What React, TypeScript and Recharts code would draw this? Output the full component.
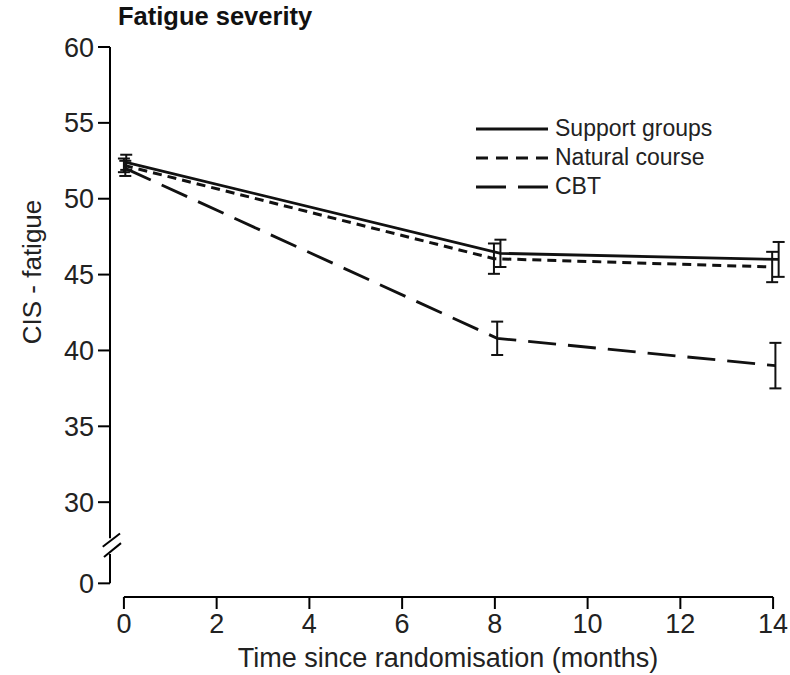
import React from "react";
import {
  LineChart,
  Line,
  XAxis,
  YAxis,
  ErrorBar,
  ReferenceLine,
  Legend,
  Customized,
} from "recharts";

const FONT = '"Liberation Sans", Arial, sans-serif';

// months (small horizontal offsets as in the original figure)
const SUPPORT_MONTHS = [0.05, 8.12, 14.12];
const SUPPORT_MEAN = [52.4, 46.4, 46.0];
const SUPPORT_ERR = [0.5, 0.9, 1.15];

const NATURAL_MONTHS = [0, 7.98, 13.98];
const NATURAL_MEAN = [52.2, 46.05, 45.5];
const NATURAL_ERR = [0.45, 1.0, 1.0];

const CBT_MONTHS = [0.03, 8.05, 14.05];
const CBT_MEAN = [52.0, 40.8, 39.0];
const CBT_ERR = [0.5, 1.1, 1.5];

const X_TICKS = [0, 2, 4, 6, 8, 10, 12, 14];
// broken axis: the "0" tick sits just under 30
const ZERO_POS = 24.65;
const Y_TICKS = [ZERO_POS, 30, 35, 40, 45, 50, 55, 60];
const Y_MIN = 23.75;
const Y_MAX = 60;
const X_MIN = -0.3;
const X_MAX = 14.3;

const build = (months: number[], mean: number[], err: number[]) =>
  months.map((m, i) => ({ month: m, mean: mean[i], err: err[i] }));

const supportData = build(SUPPORT_MONTHS, SUPPORT_MEAN, SUPPORT_ERR);
const naturalData = build(NATURAL_MONTHS, NATURAL_MEAN, NATURAL_ERR);
const cbtData = build(CBT_MONTHS, CBT_MEAN, CBT_ERR);

const SERIES = [
  { name: "Support groups", data: supportData, dash: undefined, legendDash: undefined, width: 2.8 },
  { name: "Natural course", data: naturalData, dash: "9 6", legendDash: "12 8", width: 3 },
  { name: "CBT", data: cbtData, dash: "28 12", legendDash: "30 12", width: 2.8 },
];

const INK = "#111";

function Texts() {
  return (
    <g fontFamily={FONT} fill={INK}>
      <text x={118} y={25} fontSize={25.5} fontWeight="bold">
        Fatigue severity
      </text>
      <text x={448} y={667} fontSize={27} textAnchor="middle" fill="#222">
        Time since randomisation (months)
      </text>
      <text x={41} y={272} fontSize={26} textAnchor="middle" fill="#222" transform="rotate(-90 41 272)">
        CIS - fatigue
      </text>
    </g>
  );
}

const renderLegend = () => (
  <div style={{ fontFamily: FONT, fontSize: 23, color: "#222" }}>
    {SERIES.map((s) => (
      <div key={s.name} style={{ display: "flex", alignItems: "center", height: 29 }}>
        <svg width={72} height={10}>
          <line x1={0} y1={5} x2={72} y2={5} stroke={INK} strokeWidth={3} strokeDasharray={s.legendDash} />
        </svg>
        <span style={{ marginLeft: 7, whiteSpace: "nowrap" }}>{s.name}</span>
      </div>
    ))}
  </div>
);

export default function App() {
  const axisStroke = { stroke: "#000", strokeWidth: 2 };
  return (
    <div style={{ position: "absolute", left: 0, top: 0, background: "#fff" }}>
      <LineChart width={790} height={675} margin={{ top: 47, right: 3, bottom: 0, left: 0 }}>
        <XAxis
          dataKey="month"
          type="number"
          domain={[X_MIN, X_MAX]}
          allowDataOverflow
          ticks={X_TICKS}
          axisLine={false}
          tickLine={axisStroke}
          tickSize={12}
          tickMargin={5}
          height={78}
          tick={{ fill: "#222", fontSize: 27, fontFamily: FONT }}
        />
        <YAxis
          type="number"
          domain={[Y_MIN, Y_MAX]}
          allowDataOverflow
          ticks={Y_TICKS}
          interval={0}
          tickFormatter={(v: number) => (v < 30 ? "0" : String(v))}
          axisLine={false}
          tickLine={axisStroke}
          tickSize={12}
          tickMargin={4}
          width={110}
          tick={{ fill: "#222", fontSize: 27, fontFamily: FONT }}
        />
        {/* axis lines with the break */}
        <ReferenceLine segment={[{ x: 0, y: Y_MIN }, { x: 14, y: Y_MIN }]} {...axisStroke} ifOverflow="visible" />
        <ReferenceLine segment={[{ x: X_MIN, y: 60 }, { x: X_MIN, y: 27.63 }]} {...axisStroke} ifOverflow="visible" />
        <ReferenceLine segment={[{ x: X_MIN, y: 26.58 }, { x: X_MIN, y: ZERO_POS }]} {...axisStroke} ifOverflow="visible" />
        <ReferenceLine segment={[{ x: -0.457, y: 27.06 }, { x: -0.084, y: 27.94 }]} {...axisStroke} ifOverflow="visible" />
        <ReferenceLine segment={[{ x: -0.43, y: 26.38 }, { x: -0.063, y: 27.3 }]} {...axisStroke} ifOverflow="visible" />
        {SERIES.map((s) => (
          <Line
            key={s.name}
            data={s.data}
            dataKey="mean"
            name={s.name}
            stroke={INK}
            strokeWidth={s.width}
            strokeDasharray={s.dash}
            dot={false}
            activeDot={false}
            isAnimationActive={false}
          >
            <ErrorBar dataKey="err" width={6} stroke={INK} strokeWidth={2} direction="y" isAnimationActive={false} />
          </Line>
        ))}
        <Legend
          layout="vertical"
          align="center"
          verticalAlign="middle"
          content={renderLegend}
          wrapperStyle={{ left: 476, top: 114, width: "auto", height: "auto" }}
        />
        <Customized component={<Texts />} />
      </LineChart>
    </div>
  );
}
